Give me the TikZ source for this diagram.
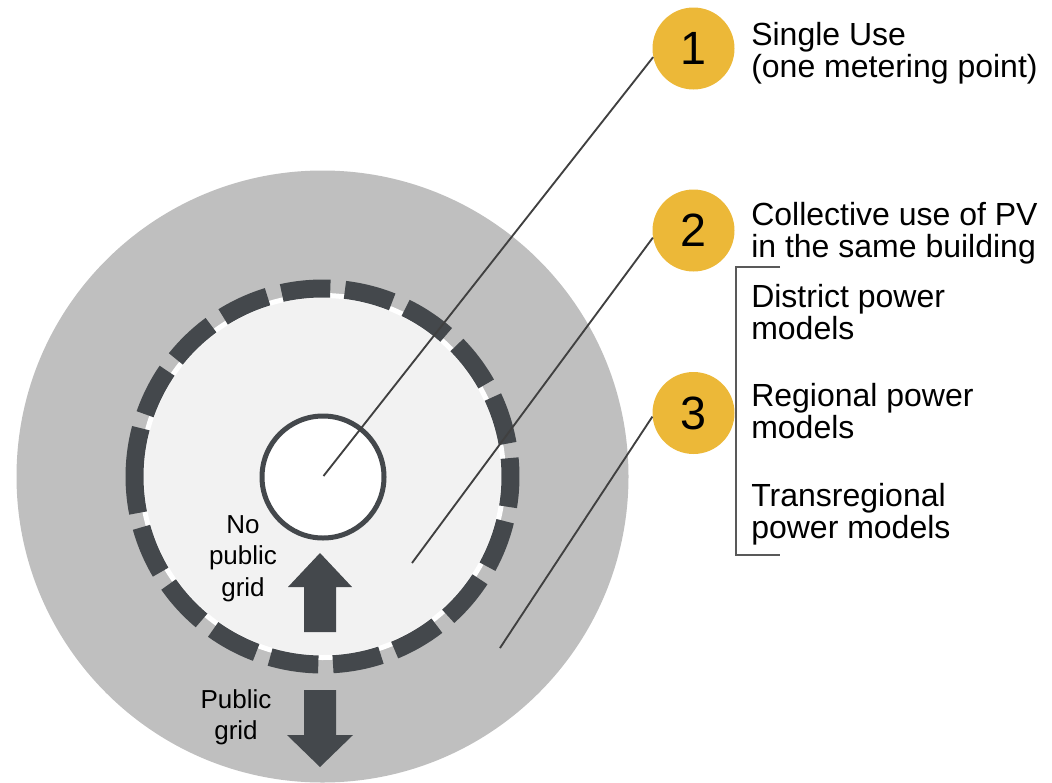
\documentclass[tikz,border=0pt]{standalone}
\usepackage{fontspec}
\setmainfont{Liberation Sans}
\usetikzlibrary{calc}
\definecolor{bigC}{RGB}{191,191,191}
\definecolor{lightC}{RGB}{242,242,242}
\definecolor{dashC}{RGB}{68,72,76}
\definecolor{goldC}{RGB}{236,184,56}
\definecolor{lineC}{RGB}{64,64,64}
\definecolor{brC}{RGB}{89,89,89}
\begin{document}
\begin{tikzpicture}[x=0.75pt,y=-0.75pt,
  lab/.style={inner sep=0pt, anchor=base west, font=\fontsize{24}{24.4}\selectfont},
  numc/.style={circle, fill=goldC, minimum size=61.5pt, inner sep=0pt, font=\fontsize{35}{40}\selectfont},
  leader/.style={draw=lineC, line width=1.4pt},
  small/.style={inner sep=0pt, anchor=base, font=\fontsize{19.5}{23.8}\selectfont},
  dashseg/.style={draw=dashC, line width=13.5pt},
  bigarrow/.style={fill=dashC},
  bracket/.style={draw=brC, line width=2pt}
  ]
\useasboundingbox (0,0) rectangle (1052,782);
\coordinate (C) at (322.5,476.5);
% outer public grid area
\fill[bigC] (C) circle[radius=229.5pt];
% inner area
\fill[lightC] (C) circle[radius=135.75pt];
\draw[white, line width=3.75pt] (C) circle[radius=135.75pt];
% dashed boundary
\draw[dashseg] (C) ++(165.1:141pt) arc[start angle=165.1, end angle=191.2, radius=141pt];
\foreach \k in {0,...,16}{
  \pgfmathsetmacro\sa{195.68+19.38*\k}
  \pgfmathsetmacro\ea{\sa+14.9}
  \draw[dashseg] (C) ++(\sa:141pt) arc[start angle=\sa, end angle=\ea, radius=141pt];
}
% core
\node[circle, draw=dashC, fill=white, line width=3.75pt, minimum size=91.5pt, inner sep=0pt] (core) at (323,477) {};
% arrows
\fill[bigarrow] (320,553) -- (352,587) -- (336,587) -- (336,632) -- (304,632) -- (304,587) -- (288,587) -- cycle;
\fill[bigarrow] (320,767) -- (353,735) -- (336,735) -- (336,690) -- (304,690) -- (304,735) -- (287,735) -- cycle;
% labels inside
\node[small] (np) at (243,533) {\begin{tabular}[t]{@{}c@{}}No\\public\\grid\end{tabular}};
\node[small] (pg) at (236,708) {\begin{tabular}[t]{@{}c@{}}Public\\grid\end{tabular}};
% number circles
\node[numc] (n1) at (693.5,48.5) {1};
\node[numc] (n2) at (693.5,230.5) {2};
\node[numc] (n3) at (693.5,413) {3};
% leader lines
\coordinate (p1) at (323.5,476);
\coordinate (p2) at (412,563);
\coordinate (p3) at (500,648);
\draw[leader] (p1) -- (n1.192);
\draw[leader] (p2) -- (n2.190);
\draw[leader] (p3) -- (n3.185);
% bracket
\coordinate (b1) at (780,267);
\coordinate (b2) at (736,267);
\coordinate (b3) at (736,555);
\coordinate (b4) at (780,555);
\draw[bracket] (b1) -- (b2) -- (b3) -- (b4);
% right texts
\node[lab] (t1) at (751,45) {\begin{tabular}[t]{@{}l@{}}Single Use\\(one metering point)\end{tabular}};
\node[lab] (t2) at (751,225) {\begin{tabular}[t]{@{}l@{}}Collective use of PV\\in the same building\end{tabular}};
\node[lab] (t3) at (751,307) {\begin{tabular}[t]{@{}l@{}}District power\\models\end{tabular}};
\node[lab] (t4) at (751,406) {\begin{tabular}[t]{@{}l@{}}Regional power\\models\end{tabular}};
\node[lab] (t5) at (751,506) {\begin{tabular}[t]{@{}l@{}}Transregional\\power models\end{tabular}};
\end{tikzpicture}
\end{document}
